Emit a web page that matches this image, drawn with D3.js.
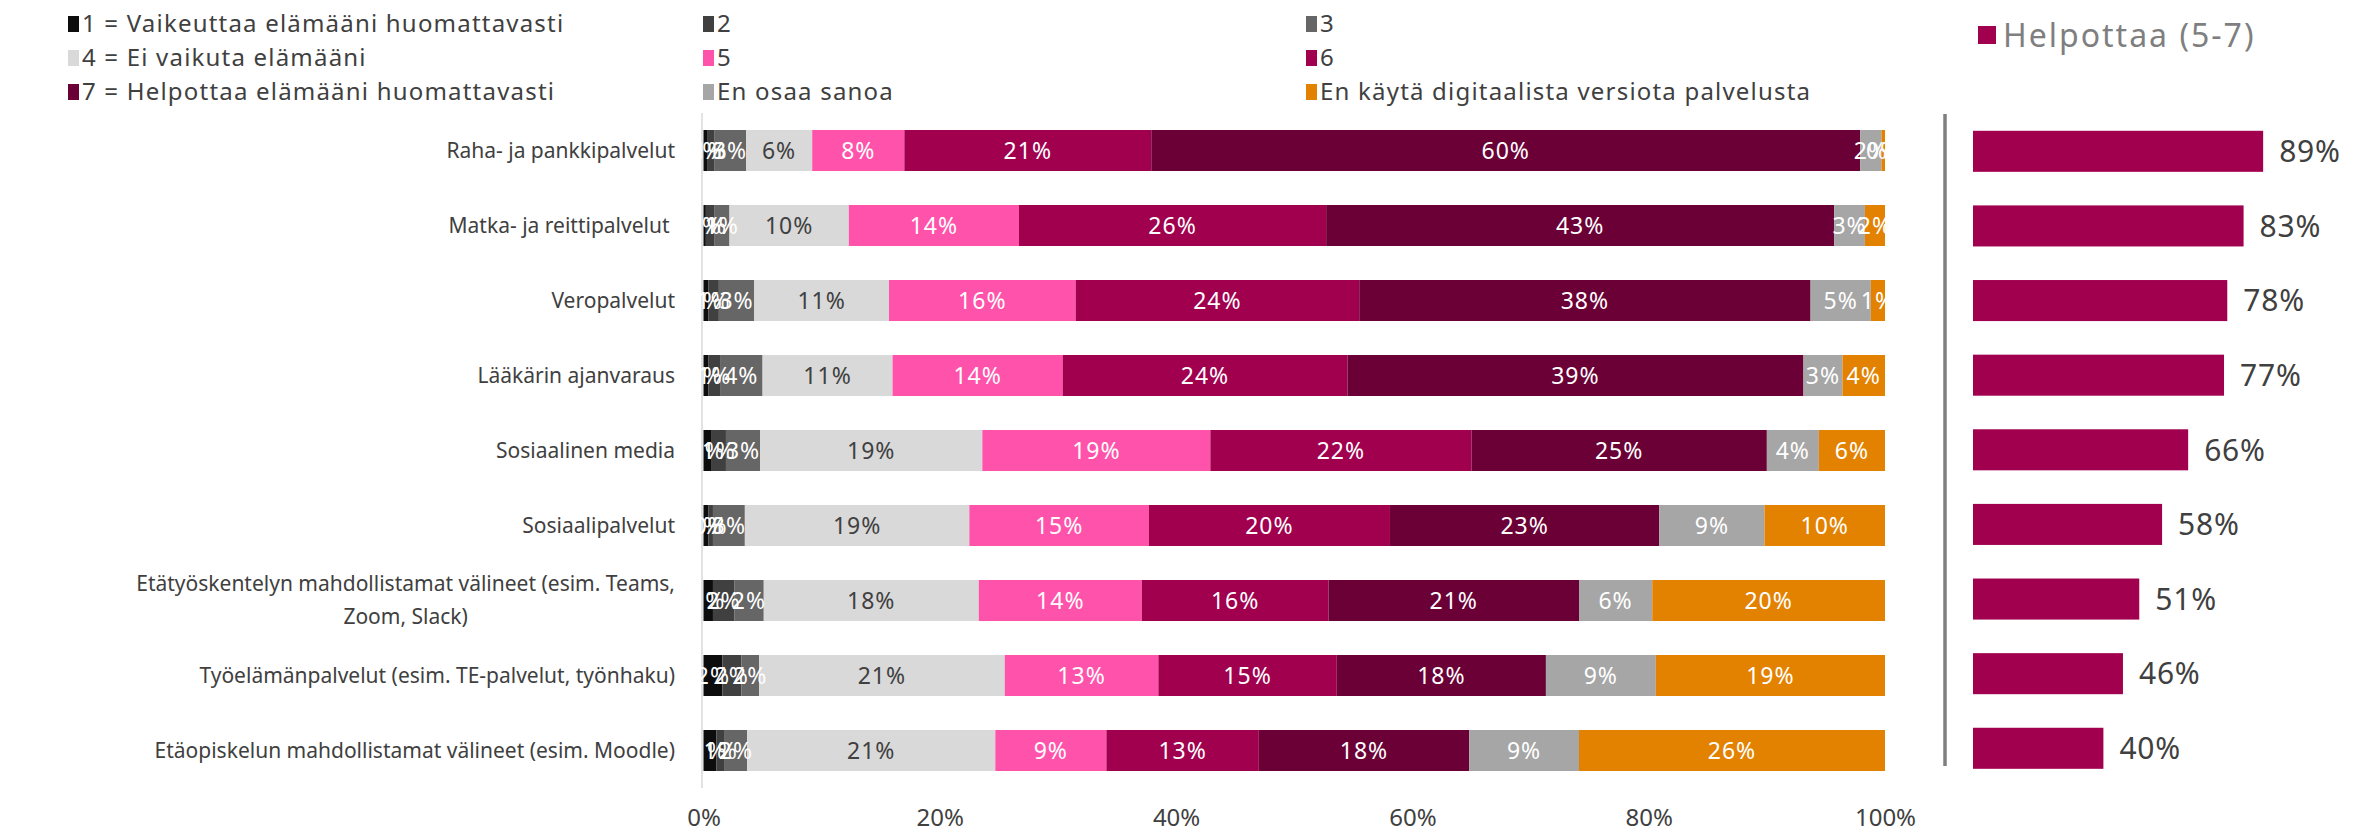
<!DOCTYPE html>
<html>
<head>
<meta charset="utf-8">
<script src="https://cdn.jsdelivr.net/npm/d3@7"></script>
<style>
  html, body { margin: 0; padding: 0; background: #fff; }
  svg { display: block; }
  text { font-family: "Noto Sans", sans-serif; }
</style>
</head>
<body>
<svg id="chart" width="2364" height="835"></svg>
<script>
// Palvelut (rows, top to bottom)
const categories = [
  "Raha- ja pankkipalvelut",
  "Matka- ja reittipalvelut ",
  "Veropalvelut",
  "Lääkärin ajanvaraus",
  "Sosiaalinen media",
  "Sosiaalipalvelut",
  "Etätyöskentelyn mahdollistamat välineet (esim. Teams,\nZoom, Slack)",
  "Työelämänpalvelut (esim. TE-palvelut, työnhaku)",
  "Etäopiskelun mahdollistamat välineet (esim. Moodle)"
];

// Response scale (stack order, left to right)
const seriesNames = [
  "1 = Vaikeuttaa elämääni huomattavasti",
  "2",
  "3",
  "4 = Ei vaikuta elämääni",
  "5",
  "6",
  "7 = Helpottaa elämääni huomattavasti",
  "En osaa sanoa",
  "En käytä digitaalista versiota palvelusta"
];
const seriesColors = ["#0d0d0d", "#404040", "#666666", "#d9d9d9", "#ff52aa", "#a1004f", "#6b0036", "#a6a6a6", "#e38200"];
const seriesLabelColors = ["#fff", "#fff", "#fff", "#404040", "#fff", "#fff", "#fff", "#fff", "#fff"];

// Shares (%) per series, one value per category
const s1   = [0.3, 0.2, 0.4, 0.4, 0.7, 0.4, 0.8, 1.6, 1.1];
const s2   = [0.6, 0.7, 0.9, 1.0, 1.2, 0.4, 1.8, 1.6, 0.7];
const s3   = [2.7, 1.3, 3.0, 3.6, 2.9, 2.7, 2.5, 1.5, 1.9];
const s4   = [5.6, 10.1, 11.4, 11.0, 18.8, 19.0, 18.2, 20.8, 21.0];
const s5   = [7.8, 14.4, 15.8, 14.4, 19.3, 15.2, 13.8, 13.0, 9.4];
const s6   = [20.9, 26.0, 24.0, 24.1, 22.1, 20.4, 15.8, 15.1, 12.9];
const s7   = [60.0, 43.0, 38.2, 38.6, 25.0, 22.8, 21.2, 17.7, 17.8];
const sEos = [1.8, 2.6, 5.1, 3.3, 4.4, 8.9, 6.2, 9.3, 9.3];
const sEkd = [0.3, 1.7, 1.2, 3.6, 5.6, 10.2, 19.7, 19.4, 25.9];
const seriesValues = [s1, s2, s3, s4, s5, s6, s7, sEos, sEkd];

// Helpottaa (5-7) totals
const helpottaaName = "Helpottaa (5-7)";
const helpottaa = [89, 83, 78, 77, 66, 58, 51, 46, 40];
const helpottaaColor = "#a1004f";

const xTicks = [0, 20, 40, 60, 80, 100];

const svg = d3.select("#chart");
const fmt = v => Math.round(v) + "%";

// ---- main stacked chart ----
const x = d3.scaleLinear().domain([0, 100]).range([703.5, 1885]);
const y = d3.scaleBand().domain(d3.range(categories.length))
  .range([113, 788]).paddingInner(0.4533).paddingOuter(0.2267);

const rows = categories.map((c, i) => {
  const o = { i };
  seriesNames.forEach((s, k) => { o["k" + k] = seriesValues[k][i]; });
  return o;
});
const keys = seriesNames.map((s, k) => "k" + k);
const stacked = d3.stack().keys(keys)(rows);

// baseline
svg.append("line")
  .attr("x1", 702).attr("x2", 702)
  .attr("y1", y.range()[0]).attr("y2", y.range()[1])
  .attr("stroke", "#d9d9d9").attr("stroke-width", 1.5);

const layers = svg.append("g").selectAll("g").data(stacked).join("g")
  .attr("fill", (d, k) => seriesColors[k]);

layers.selectAll("rect").data(d => d).join("rect")
  .attr("x", d => x(d[0]))
  .attr("y", d => y(d.data.i))
  .attr("width", d => x(d[1]) - x(d[0]))
  .attr("height", y.bandwidth());

const labelLayers = svg.append("g").selectAll("g").data(stacked).join("g")
  .attr("fill", (d, k) => seriesLabelColors[k]);

labelLayers.selectAll("text").data(d => d).join("text")
  .attr("x", d => (x(d[0]) + x(d[1])) / 2)
  .attr("y", d => y(d.data.i) + y.bandwidth() / 2)
  .attr("dy", "0.36em")
  .attr("text-anchor", "middle")
  .attr("font-size", 23)
  .attr("letter-spacing", 1)
  .text(d => fmt(d[1] - d[0]));

// category labels
const catG = svg.append("g").attr("fill", "#404040").attr("font-size", 21);
categories.forEach((c, i) => {
  const lines = c.split("\n");
  const cy = y(i) + y.bandwidth() / 2;
  const right = 675;
  if (lines.length === 1) {
    catG.append("text")
      .attr("x", right).attr("y", cy).attr("dy", "0.35em")
      .attr("text-anchor", "end")
      .style("white-space", "pre")
      .text(c);
  } else {
    const t1 = catG.append("text")
      .attr("x", right).attr("y", cy - 16.5).attr("dy", "0.35em")
      .attr("text-anchor", "end").text(lines[0]);
    const w = t1.node().getComputedTextLength();
    catG.append("text")
      .attr("x", right - w / 2).attr("y", cy + 16.5).attr("dy", "0.35em")
      .attr("text-anchor", "middle").text(lines[1]);
  }
});

// x axis
const xAxis = svg.append("g").attr("transform", "translate(0,809)")
  .call(d3.axisBottom(x).tickValues(xTicks).tickSize(0).tickFormat(d => d + "%"));
xAxis.select(".domain").remove();
xAxis.selectAll("text")
  .attr("font-family", "Noto Sans, sans-serif")
  .attr("font-size", 24).attr("fill", "#404040").attr("dy", "0.6em");

// top legend: 3 columns x 3 rows
const legCols = [68, 703, 1306];
const legRows = [24, 58, 92];
const leg = svg.append("g");
seriesNames.forEach((s, k) => {
  const lx = legCols[k % 3], ly = legRows[Math.floor(k / 3)];
  leg.append("rect").attr("x", lx).attr("y", ly - 8).attr("width", 11).attr("height", 16)
    .attr("fill", seriesColors[k]);
  leg.append("text").attr("x", lx + 14).attr("y", ly).attr("dy", "0.35em")
    .attr("font-size", 24).attr("letter-spacing", 1.2).attr("fill", "#404040").text(s);
});

// ---- Helpottaa (5-7) panel ----
const x2 = d3.scaleLinear().domain([0, 100]).range([1973, 2299]);
const y2 = d3.scaleBand().domain(d3.range(categories.length))
  .range([114, 785.6]).paddingInner(0.45).paddingOuter(0.225);

svg.append("line")
  .attr("x1", 1945).attr("x2", 1945).attr("y1", 114).attr("y2", 766)
  .attr("stroke", "#7f7f7f").attr("stroke-width", 3.5);

svg.append("g").selectAll("rect").data(helpottaa).join("rect")
  .attr("x", x2(0)).attr("y", (d, i) => y2(i))
  .attr("width", d => x2(d) - x2(0)).attr("height", y2.bandwidth())
  .attr("fill", helpottaaColor);

svg.append("g").selectAll("text").data(helpottaa).join("text")
  .attr("x", d => x2(d) + 16).attr("y", (d, i) => y2(i) + y2.bandwidth() / 2)
  .attr("dy", "0.36em").attr("font-size", 30).attr("letter-spacing", 0.8).attr("fill", "#404040")
  .text(d => d + "%");

svg.append("rect").attr("x", 1978).attr("y", 26).attr("width", 18).attr("height", 18)
  .attr("fill", helpottaaColor);
svg.append("text").attr("x", 2003).attr("y", 35).attr("dy", "0.36em")
  .attr("font-size", 32).attr("letter-spacing", 2).attr("fill", "#7f7f7f").text(helpottaaName);
</script>
</body>
</html>
